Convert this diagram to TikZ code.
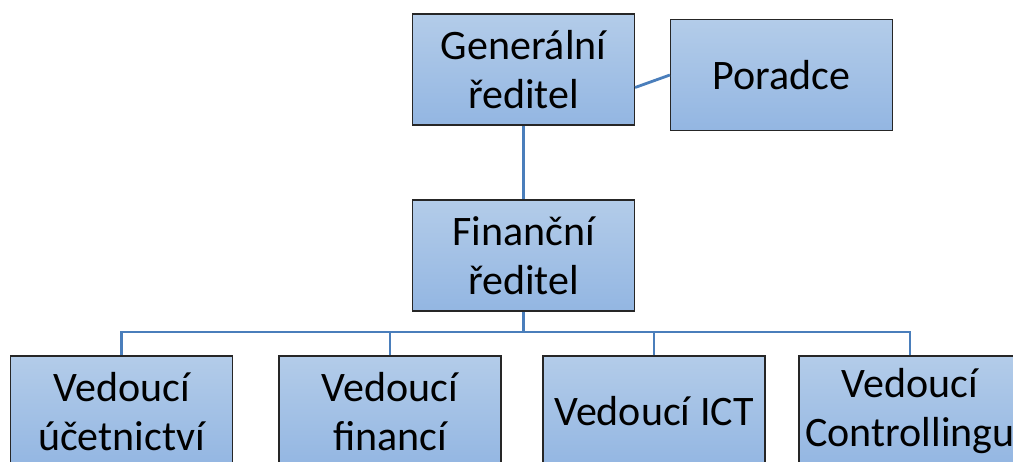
\documentclass[tikz,border=0pt]{standalone}
\usepackage{fontspec}
\setmainfont{Carlito}
\definecolor{boxtop}{HTML}{B3CCE9}
\definecolor{boxbot}{HTML}{93B6E2}
\definecolor{linec}{HTML}{4A7EBB}
\begin{document}
\begin{tikzpicture}[x=1pt,y=-1pt,
  orgbox/.style={draw=black!85,line width=1.2pt,top color=boxtop,bottom color=boxbot,
    minimum width=222pt,minimum height=111pt,inner sep=0pt,align=center,
    font=\fontsize{42}{49}\selectfont},
  conn/.style={draw=linec,line width=2.8pt}]
\useasboundingbox (0,0) rectangle (1013,461);
\clip (0,0) rectangle (1013,461);
\node[orgbox] (gen) at (523.5,69.5) {Generální\\ředitel};
\node[orgbox] (por) at (781.5,75) {Poradce};
\node[orgbox] (fin) at (523.5,255.5) {Finanční\\ředitel};
\node[orgbox] (v1) at (121.5,411.5) {Vedoucí\\účetnictví};
\node[orgbox] (v2) at (390,411.5) {Vedoucí\\financí};
\node[orgbox] (v3) at (654,411.5) {Vedoucí ICT};
\node[orgbox] (v4) at (910,411.5) {Vedoucí\\Controllingu};
\coordinate (bus) at (523.5,332);
\draw[conn] (gen.east) ++(0,18) -- ([yshift=0pt]por.west);
\draw[conn] (gen.south) -- (fin.north);
\draw[conn] (fin.south) -- (bus);
\draw[conn] (v1.north) |- (bus);
\draw[conn] (v2.north) |- (bus);
\draw[conn] (v3.north) |- (bus);
\draw[conn] (v4.north) |- (bus);
\end{tikzpicture}
\end{document}
